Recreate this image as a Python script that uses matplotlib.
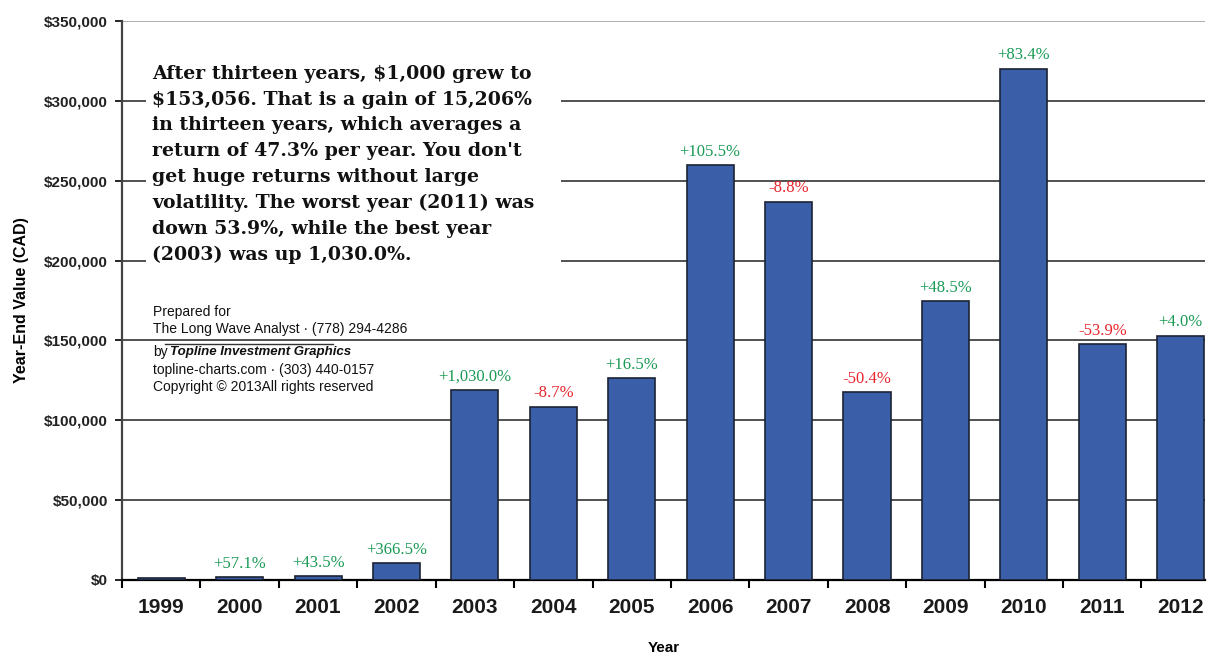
import matplotlib.pyplot as plt
from matplotlib.lines import Line2D
from matplotlib.patches import Rectangle

years = ["1999", "2000", "2001", "2002", "2003", "2004", "2005",
         "2006", "2007", "2008", "2009", "2010", "2011", "2012"]
values = [1000, 1571, 2254, 10516, 118830, 108500, 126400,
          259800, 236900, 117500, 174500, 320000, 147500, 153056]
labels = ["", "+57.1%", "+43.5%", "+366.5%", "+1,030.0%", "-8.7%", "+16.5%",
          "+105.5%", "-8.8%", "-50.4%", "+48.5%", "+83.4%", "-53.9%", "+4.0%"]
yticks = [0, 50000, 100000, 150000, 200000, 250000, 300000, 350000]

note = ("After thirteen years, $1,000 grew to\n"
        "$153,056. That is a gain of 15,206%\n"
        "in thirteen years, which averages a\n"
        "return of 47.3% per year. You don't\n"
        "get huge returns without large\n"
        "volatility. The worst year (2011) was\n"
        "down 53.9%, while the best year\n"
        "(2003) was up 1,030.0%.")

W, H = 1208, 656


def fx(px):
    return px / W


def fy(py):
    return 1 - py / H


fig = plt.figure(figsize=(12.08, 6.56), dpi=100)
ax = fig.add_axes([fx(122), fy(580), fx(1205) - fx(122), fy(21) - fy(580)])

x = range(len(years))
ax.bar(x, values, width=0.6, color="#3a5ea8", edgecolor="#1c2233",
       linewidth=1.2, zorder=3)

for i, (v, lab) in enumerate(zip(values, labels)):
    if not lab:
        continue
    col = "#e8242c" if lab.startswith("-") else "#1a9a55"
    ax.annotate(lab, (i, v), xytext=(0, 4), textcoords="offset points",
                ha="center", va="bottom", color=col, fontsize=12,
                family="Liberation Serif", zorder=4)

for t in yticks[1:]:
    ax.axhline(t, color="#9a9a9a" if t == 350000 else "#222222",
               linewidth=1.1, zorder=1)

ax.set_xlim(-0.5, 13.31)
ax.set_ylim(0, 350000)
ax.set_yticks(yticks)
ax.set_yticklabels(["$0" if t == 0 else f"${t:,}" for t in yticks],
                   fontsize=11, fontweight="bold", family="Liberation Sans",
                   color="#222222")
ax.set_xticks(list(x))
ax.set_xticklabels(years, fontsize=15, fontweight="bold",
                   family="Liberation Sans", color="#1a1a1a")
ax.set_xticks([i - 0.5 for i in range(len(years))], minor=True)
ax.tick_params(axis="x", which="major", length=0, pad=13)
ax.tick_params(axis="x", which="minor", length=6, width=1.5, direction="out")
ax.tick_params(axis="y", length=5, width=1.2, direction="out", pad=5)

for s in ("top", "right"):
    ax.spines[s].set_visible(False)
ax.spines["left"].set_color("#444444")
ax.spines["left"].set_linewidth(1.6)
ax.spines["bottom"].set_linewidth(1.6)

ax.set_xlabel("Year", fontsize=11, fontweight="bold",
              family="Liberation Sans", labelpad=17)
ax.set_ylabel("Year-End Value (CAD)", fontsize=11.5, fontweight="bold",
              family="Liberation Sans", labelpad=11)

# white panel behind the note, hiding the grid lines
fig.patches.append(Rectangle((fx(146), fy(272)), fx(561) - fx(146),
                             fy(52) - fy(272), transform=fig.transFigure,
                             facecolor="white", edgecolor="none", zorder=1.5))
ax.set_zorder(1)
ax.patch.set_visible(False)
fig.text(fx(152), fy(65), note, ha="left", va="top", fontsize=13.6,
         fontweight="bold", family="DejaVu Serif", linespacing=1.55,
         color="#111111", zorder=5)

small = dict(ha="left", va="center", fontsize=10, family="Liberation Sans",
             color="#111111")
fig.text(fx(153), fy(312), "Prepared for", **small)
fig.text(fx(153), fy(329), "The Long Wave Analyst \u00b7 (778) 294-4286", **small)
fig.text(fx(153), fy(352), "by", **small)
fig.text(fx(170), fy(352), "Topline Investment Graphics", ha="left",
         va="center", fontsize=9.5, family="Liberation Sans",
         fontweight="bold", style="italic", color="#111111")
fig.text(fx(153), fy(370), "topline-charts.com \u00b7 (303) 440-0157", **small)
fig.text(fx(153), fy(387), "Copyright \u00a9 2013All rights reserved", **small)
fig.lines.append(Line2D([fx(165), fx(333)], [fy(344), fy(344)],
                        transform=fig.transFigure, color="#333333",
                        linewidth=1))

fig.savefig("out.png", dpi=100)
